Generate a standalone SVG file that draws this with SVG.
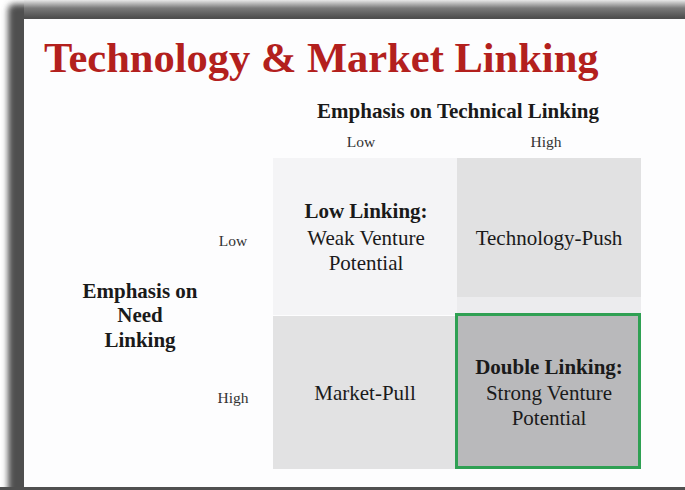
<svg xmlns="http://www.w3.org/2000/svg" width="685" height="490" viewBox="0 0 685 490">
  <defs>
    <filter id="blur" x="-5%" y="-5%" width="110%" height="110%">
      <feGaussianBlur stdDeviation="3"/>
    </filter>
    <linearGradient id="topband" x1="0" y1="0" x2="0" y2="1">
      <stop offset="0" stop-color="#e8e8e8"/>
      <stop offset="0.45" stop-color="#7a7a7a"/>
      <stop offset="1" stop-color="#4e4e4e"/>
    </linearGradient>
  </defs>
  <style>
    .serif { font-family: "Liberation Serif", "Times New Roman", serif; fill: #1a1a1a; }
    .title { font-family: "Liberation Serif", "Times New Roman", serif; font-weight: bold; font-size: 42.5px; fill: #b3201d; }
    .axis { font-size: 21px; font-weight: bold; text-anchor: middle; }
    .tick { font-size: 15.5px; text-anchor: middle; fill: #333; }
    .cell { font-size: 21px; text-anchor: middle; }
    .b { font-weight: bold; }
  </style>
  <rect x="0" y="0" width="685" height="490" fill="#ffffff"/>
  <!-- slide frame -->
  <rect x="8" y="4" width="700" height="500" rx="6" fill="#505050" filter="url(#blur)"/>
  <rect x="24" y="0" width="661" height="18" fill="url(#topband)"/>
  <rect x="24" y="19" width="661" height="468" fill="#fdfdfe"/>
  <rect x="0" y="487" width="685" height="3" fill="#505050"/>

  <text class="title" x="44" y="72">Technology &amp; Market Linking</text>

  <g id="axis-technical">
    <text class="serif axis" x="458" y="118">Emphasis on Technical Linking</text>
    <text class="serif tick" x="361" y="147">Low</text>
    <text class="serif tick" x="546" y="147">High</text>
  </g>
  <g id="axis-need">
    <text class="serif axis" x="140" y="298">Emphasis on</text>
    <text class="serif axis" x="140" y="322">Need</text>
    <text class="serif axis" x="140" y="347">Linking</text>
    <text class="serif tick" x="233" y="246">Low</text>
    <text class="serif tick" x="233" y="403">High</text>
  </g>

  <g id="cell-low-linking">
    <rect x="273" y="158" width="184" height="157" fill="#f4f4f6"/>
    <text class="serif cell b" x="366" y="218">Low Linking:</text>
    <text class="serif cell" x="366" y="245">Weak Venture</text>
    <text class="serif cell" x="366" y="270">Potential</text>
  </g>
  <g id="cell-technology-push">
    <rect x="457" y="158" width="184" height="139" fill="#e1e1e2"/>
    <rect x="457" y="297" width="184" height="16" fill="#ececee"/>
    <text class="serif cell" x="549" y="245">Technology-Push</text>
  </g>
  <g id="cell-market-pull">
    <rect x="273" y="316" width="182" height="153" fill="#e2e2e3"/>
    <text class="serif cell" x="365" y="400">Market-Pull</text>
  </g>
  <g id="cell-double-linking">
    <rect x="456.5" y="314.5" width="183" height="153" fill="#b9b9bb" stroke="#2fa053" stroke-width="3"/>
    <text class="serif cell b" x="549" y="374">Double Linking:</text>
    <text class="serif cell" x="549" y="400">Strong Venture</text>
    <text class="serif cell" x="549" y="425">Potential</text>
  </g>
  <g id="connectors"></g>
</svg>
